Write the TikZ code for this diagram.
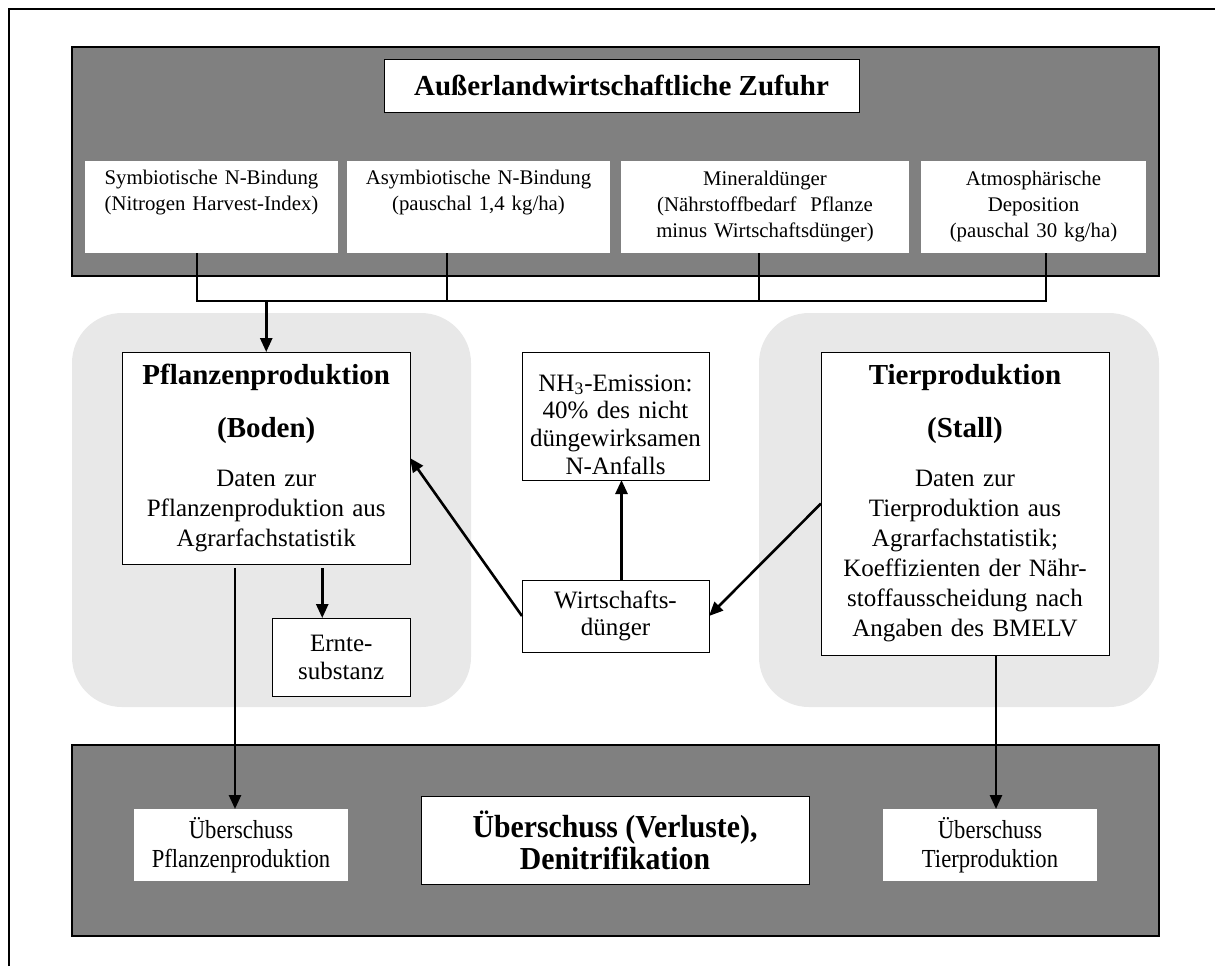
\documentclass[tikz,border=0pt]{standalone}
\usepackage{fontspec}
\setmainfont{Liberation Serif}
\usepackage{graphicx}
\usetikzlibrary{arrows.meta}
\definecolor{darkbg}{RGB}{128,128,128}
\definecolor{lightbg}{RGB}{232,232,232}
\begin{document}
\begin{tikzpicture}[x=0.5pt,y=-0.5pt,
  panel/.style={draw=black, line width=0.6pt, fill=darkbg},
  area/.style={fill=lightbg, rounded corners=25pt},
  wbox/.style={fill=white, inner sep=0pt, outer sep=0pt, align=center},
  fbox/.style={wbox, draw=black, line width=0.5pt},
  ubox/.style={wbox, minimum height=46pt, font=\fontsize{10.4}{13}\selectfont},
  conn/.style={line width=0.8pt},
  arr/.style={line width=1.3pt, -{Triangle[length=7pt,width=6pt]}},
]
\useasboundingbox (0,0) rectangle (1215,966);
% frame and panels
\draw[line width=1pt] (9,966) -- (9,9) -- (1215,9);
\path[panel] (72,47) rectangle (1159,276);
\path[panel] (72,745) rectangle (1159,936);
\path[area] (72,313) rectangle (471,707);
\path[area] (759,313) rectangle (1159,707);

% top
\node[fbox, minimum width=237.5pt, minimum height=26.5pt,
      font=\fontsize{14.5}{17}\selectfont\bfseries] (title) at (621.5,85.5) {Außerlandwirtschaftliche Zufuhr};
\node[ubox, minimum width=126.5pt, text width=126.5pt] (b1) at (211.5,207)
  {\parindent=0pt Symbiotische N-Bindung\\(Nitrogen Harvest-Index)\\\strut};
\node[ubox, minimum width=131.5pt, text width=131.5pt] (b2) at (478.5,207)
  {\parindent=0pt Asymbiotische N-Bindung\\(pauschal 1,4 kg/ha)\\\strut};
\node[ubox, minimum width=144pt, text width=144pt] (b3) at (765,207)
  {\parindent=0pt Mineraldünger\\(Nährstoffbedarf~ Pflanze\\minus Wirtschaftsdünger)};
\node[ubox, minimum width=112.5pt, text width=112.5pt] (b4) at (1033.5,207)
  {\parindent=0pt Atmosphärische\\Deposition\\(pauschal 30 kg/ha)};

% middle
\node[fbox, minimum width=143.75pt, minimum height=106pt, text width=140pt,
      font=\fontsize{12.5}{15}\selectfont] (pfl) at (266.25,458)
  {\parindent=0pt{\fontsize{14.5}{26.5}\selectfont\bfseries Pflanzenproduktion\par (Boden)\par}\vskip 9.5pt
   Daten zur\\ Pflanzenproduktion aus\\ Agrarfachstatistik};
\node[fbox, minimum width=68.75pt, minimum height=39pt,
      font=\fontsize{12.5}{14}\selectfont] (ernte) at (341.25,657) {Ernte-\\substanz};
\node[fbox, minimum width=93.5pt, minimum height=64pt, text width=93.5pt,
      font=\fontsize{12.5}{13.8}\selectfont] (nh) at (615.5,416)
  {\parindent=0pt\vskip 3pt NH\textsubscript{3}-Emission:\\40\% des nicht\\düngewirksamen\\N-Anfalls};
\node[fbox, minimum width=93.5pt, minimum height=36pt,
      font=\fontsize{12.5}{13.5}\selectfont] (wd) at (615.5,616) {Wirtschafts-\\dünger};
\node[fbox, minimum width=144pt, minimum height=151.5pt, text width=140pt,
      font=\fontsize{12.5}{15}\selectfont] (tier) at (965,503.5)
  {\parindent=0pt{\fontsize{14.5}{26.5}\selectfont\bfseries Tierproduktion\par (Stall)\par}\vskip 9.5pt
   Daten zur\\ Tierproduktion aus\\ Agrarfachstatistik;\\ Koeffizienten der Nähr-\\ stoffausscheidung nach\\ Angaben des BMELV};

% bottom
\node[wbox, minimum width=107pt, minimum height=36pt,
      font=\fontsize{13}{14.5}\selectfont] (ps) at (241,845)
  {\scalebox{0.87}[1]{Überschuss}\\\scalebox{0.87}[1]{Pflanzenproduktion}};
\node[wbox, minimum width=107pt, minimum height=36pt,
      font=\fontsize{13}{14.5}\selectfont] (ts) at (990,845)
  {\scalebox{0.87}[1]{Überschuss}\\\scalebox{0.87}[1]{Tierproduktion}};
\node[fbox, minimum width=194pt, minimum height=44pt,
      font=\fontsize{16}{16}\selectfont\bfseries] (verl) at (615,840)
  {\scalebox{0.93}[1]{Überschuss (Verluste),}\\\scalebox{0.93}[1]{Denitrifikation}};

% connectors top
\coordinate (j1) at (197,301);
\coordinate (j2) at (447,301);
\coordinate (j3) at (759,301);
\coordinate (j4) at (1046,301);
\draw[conn] (b1.south -| j1) -- (j1) -- (j4) -- (b4.south -| j4);
\draw[conn] (b2.south -| j2) -- (j2);
\draw[conn] (b3.south -| j3) -- (j3);
\draw[arr] (pfl.north |- j1) -- (pfl.north);

% middle arrows
\draw[arr] (wd.west) -- (pfl.east);
\draw[arr] (tier.west) -- (wd.east);
\draw[arr] ([xshift=3pt]wd.north) -- ([xshift=3pt]nh.south);
\coordinate (pb) at ([yshift=-2pt]pfl.south);
\coordinate (e1) at ([xshift=-9.5pt]ernte.north);
\draw[arr] (pb -| e1) -- (e1);
\coordinate (p1) at ([xshift=-3pt]ps.north);
\draw[arr] (pb -| p1) -- (p1);
\coordinate (t1) at ([xshift=3pt]ts.north);
\draw[arr] (tier.south -| t1) -- (t1);
\end{tikzpicture}
\end{document}
